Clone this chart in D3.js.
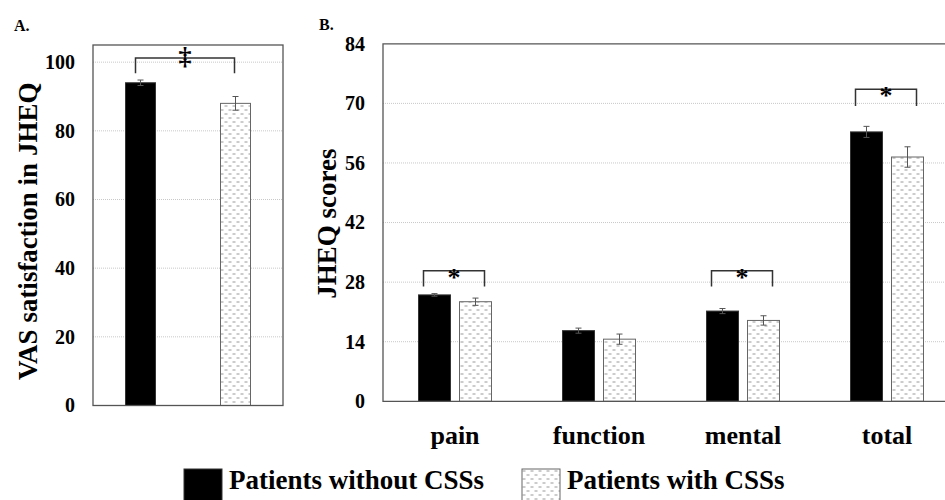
<!DOCTYPE html>
<html>
<head>
<meta charset="utf-8">
<script src="https://cdn.jsdelivr.net/npm/d3@7"></script>
<style>
  html, body { margin: 0; padding: 0; background: #fff; }
  svg { display: block; }
</style>
</head>
<body>
<svg id="chart" width="945" height="500" font-family="Liberation Serif" font-weight="bold"></svg>
<script>
// ---------- data ----------
const groups = ["Patients without CSSs", "Patients with CSSs"];
// Panel A: VAS satisfaction in JHEQ
const vasMeans = [94.0, 88.0];
const vasErrors = [0.8, 2.0];
const vasTicks = [0, 20, 40, 60, 80, 100];
// Panel B: JHEQ scores
const categories = ["pain", "function", "mental", "total"];
const withoutCSSs = [25.0, 16.6, 21.2, 63.3];
const withoutErr = [0.3, 0.6, 0.6, 1.3];
const withCSSs = [23.4, 14.6, 19.0, 57.4];
const withErr = [0.85, 1.2, 1.1, 2.4];
const jheqTicks = [0, 14, 28, 42, 56, 70, 84];
// significance brackets (data units)
const sigA = { top: 101.2, leg: 96.8, mark: "\u2021" };
const sigB = [
  { cat: "pain", top: 30.7, leg: 27.0, mark: "*" },
  { cat: "mental", top: 30.7, leg: 27.0, mark: "*" },
  { cat: "total", top: 73.3, leg: 69.4, mark: "*" }
];

const FONT = "Liberation Serif";
const svg = d3.select("#chart");
function label(sel) {
  return sel.attr("font-family", FONT).attr("font-weight", "bold").attr("fill", "#000");
}

// pattern for "with CSSs"
const defs = svg.append("defs");
const pat = defs.append("pattern").attr("id", "dashpat")
  .attr("patternUnits", "userSpaceOnUse").attr("width", 8).attr("height", 8);
pat.append("rect").attr("width", 8).attr("height", 8).attr("fill", "#fff");
pat.append("line").attr("x1", 0.5).attr("x2", 3.5).attr("y1", 2).attr("y2", 2)
  .attr("stroke", "#9a9a9a").attr("stroke-width", 1);
pat.append("line").attr("x1", 4.5).attr("x2", 7.5).attr("y1", 6).attr("y2", 6)
  .attr("stroke", "#9a9a9a").attr("stroke-width", 1);

const fills = ["#000", "url(#dashpat)"];
const strokes = ["#333", "#666"];

// ---------- Panel A ----------
const A = { left: 93, right: 283, top: 45, bottom: 405.5 };
const yA = d3.scaleLinear().domain([0, 105]).range([A.bottom, A.top]);
const xA = d3.scalePoint().domain(groups).range([A.left, A.right]).padding(0.5);
const barWA = 30;

const gA = svg.append("g");
gA.selectAll("line.grid").data(vasTicks.filter(d => d > 0)).join("line")
  .attr("x1", A.left).attr("x2", A.right)
  .attr("y1", d => yA(d)).attr("y2", d => yA(d))
  .attr("stroke", "#c8c8c8").attr("stroke-width", 1).attr("stroke-dasharray", "1,1");
const axA = d3.axisLeft(yA).tickValues(vasTicks).tickSize(0).tickPadding(18);
const gAxA = svg.append("g").attr("transform", `translate(${A.left},0)`).call(axA);
gAxA.attr("font-family", FONT);
gAxA.select(".domain").remove();
label(gAxA.selectAll("text")).attr("font-size", 20);
gA.selectAll("rect.bar").data(groups).join("rect")
  .attr("x", d => xA(d) - barWA / 2).attr("width", barWA)
  .attr("y", (d, i) => yA(vasMeans[i])).attr("height", (d, i) => yA(0) - yA(vasMeans[i]))
  .attr("fill", (d, i) => fills[i]).attr("stroke", (d, i) => strokes[i]).attr("stroke-width", 1);
groups.forEach((g, i) => {
  const cx = xA(g);
  const eg = gA.append("g").attr("stroke", "#555").attr("stroke-width", 1);
  eg.append("line").attr("x1", cx).attr("x2", cx).attr("y1", yA(vasMeans[i] + vasErrors[i])).attr("y2", yA(vasMeans[i] - vasErrors[i]));
  [vasMeans[i] + vasErrors[i], vasMeans[i] - vasErrors[i]].forEach(v =>
    eg.append("line").attr("x1", cx - 3).attr("x2", cx + 3).attr("y1", yA(v)).attr("y2", yA(v)));
});
gA.append("rect").attr("x", A.left).attr("y", A.top).attr("width", A.right - A.left).attr("height", A.bottom - A.top)
  .attr("fill", "none").attr("stroke", "#555").attr("stroke-width", 1.3);
{
  const x1 = xA(groups[0]) - 5, x2 = xA(groups[1]) - 1;
  gA.append("path")
    .attr("d", `M${x1},${yA(sigA.leg)}V${yA(sigA.top)}H${x2}V${yA(sigA.leg)}`)
    .attr("fill", "none").attr("stroke", "#333").attr("stroke-width", 1.5);
  label(gA.append("text")).attr("x", (x1 + x2) / 2).attr("y", yA(sigA.top) + 7)
    .attr("text-anchor", "middle").attr("font-size", 26).text(sigA.mark);
}
label(svg.append("text")).attr("transform", `translate(37,${(A.top + A.bottom) / 2 + 6}) rotate(-90)`)
  .attr("text-anchor", "middle").attr("font-size", 27).text("VAS satisfaction in JHEQ");
label(svg.append("text")).attr("x", 14).attr("y", 31).attr("font-size", 16).text("A.");

// ---------- Panel B ----------
const B = { left: 383, right: 959, top: 43.8, bottom: 401.3 };
const yB = d3.scaleLinear().domain([0, 84]).range([B.bottom, B.top]);
const xB = d3.scaleBand().domain(categories).range([B.left, B.right]).padding(0);
const xSub = d3.scaleBand().domain([0, 1]).range([-36.5, 36.5]).paddingInner(0.22).paddingOuter(0);

const gB = svg.append("g");
gB.selectAll("line.grid").data(jheqTicks.filter(d => d > 0 && d < 84)).join("line")
  .attr("x1", B.left).attr("x2", B.right)
  .attr("y1", d => yB(d)).attr("y2", d => yB(d))
  .attr("stroke", "#c8c8c8").attr("stroke-width", 1).attr("stroke-dasharray", "1,1");
const axB = d3.axisLeft(yB).tickValues(jheqTicks).tickSize(0).tickPadding(18);
const gAxB = svg.append("g").attr("transform", `translate(${B.left},0)`).call(axB);
gAxB.attr("font-family", FONT);
gAxB.select(".domain").remove();
label(gAxB.selectAll("text")).attr("font-size", 20);

const seriesVals = [withoutCSSs, withCSSs];
const seriesErr = [withoutErr, withErr];
seriesVals.forEach((vals, s) => {
  gB.selectAll(`rect.s${s}`).data(categories).join("rect")
    .attr("x", d => xB(d) + xB.bandwidth() / 2 + xSub(s)).attr("width", xSub.bandwidth())
    .attr("y", (d, i) => yB(vals[i])).attr("height", (d, i) => yB(0) - yB(vals[i]))
    .attr("fill", fills[s]).attr("stroke", strokes[s]).attr("stroke-width", 1);
  categories.forEach((c, i) => {
    const cx = xB(c) + xB.bandwidth() / 2 + xSub(s) + xSub.bandwidth() / 2;
    const hi = vals[i] + seriesErr[s][i], lo = vals[i] - seriesErr[s][i];
    const eg = gB.append("g").attr("stroke", "#555").attr("stroke-width", 1);
    eg.append("line").attr("x1", cx).attr("x2", cx).attr("y1", yB(hi)).attr("y2", yB(lo));
    [hi, lo].forEach(v => eg.append("line").attr("x1", cx - 3).attr("x2", cx + 3).attr("y1", yB(v)).attr("y2", yB(v)));
  });
});
gB.append("path").attr("d", `M${B.right},${B.top}H${B.left}V${B.bottom}H${B.right}`)
  .attr("fill", "none").attr("stroke", "#555").attr("stroke-width", 1.3);
sigB.forEach(b => {
  const c = xB(b.cat) + xB.bandwidth() / 2;
  const x1 = c + xSub(0) + 5, x2 = c + xSub(1) + xSub.bandwidth() - 7;
  gB.append("path").attr("d", `M${x1},${yB(b.leg)}V${yB(b.top)}H${x2}V${yB(b.leg)}`)
    .attr("fill", "none").attr("stroke", "#333").attr("stroke-width", 1.5);
  label(gB.append("text")).attr("x", (x1 + x2) / 2).attr("y", yB(b.top) + 15)
    .attr("text-anchor", "middle").attr("font-size", 26).text(b.mark);
});
label(gB.selectAll("text.cat").data(categories).join("text"))
  .attr("x", d => xB(d) + xB.bandwidth() / 2).attr("y", 444)
  .attr("text-anchor", "middle").attr("font-size", 26).text(d => d);
label(svg.append("text")).attr("transform", `translate(336,${(B.top + B.bottom) / 2 + 1}) rotate(-90)`)
  .attr("text-anchor", "middle").attr("font-size", 27).text("JHEQ scores");
label(svg.append("text")).attr("x", 319).attr("y", 30).attr("font-size", 16).text("B.");

// ---------- Legend ----------
const legX = [184, 522];
groups.forEach((g, i) => {
  const lg = svg.append("g").attr("transform", `translate(${legX[i]},469)`);
  lg.append("rect").attr("width", 38).attr("height", 38).attr("fill", fills[i]).attr("stroke", strokes[i]).attr("stroke-width", 1);
  label(lg.append("text")).attr("x", 45).attr("y", 20).attr("font-size", 27).text(g);
});
</script>
</body>
</html>
